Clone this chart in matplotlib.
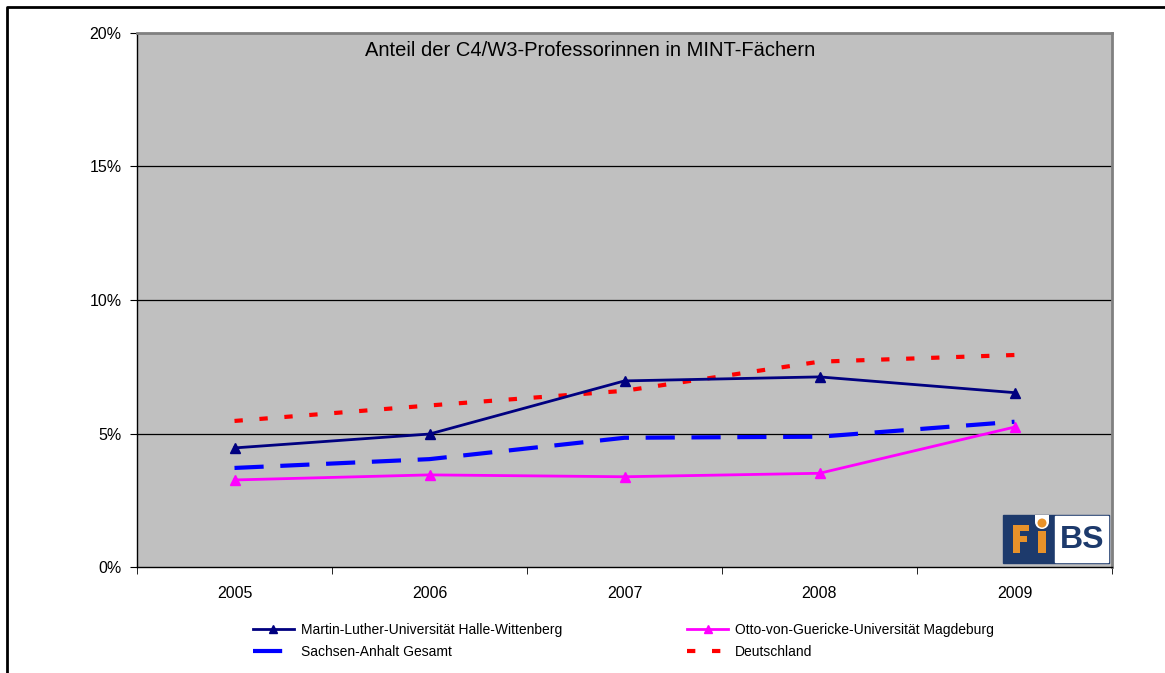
import matplotlib
matplotlib.use("Agg")
import matplotlib.pyplot as plt
from matplotlib.patches import Rectangle, Circle
import numpy as np

plt.rcParams['font.family'] = ['Liberation Sans', 'DejaVu Sans']

# data (share of female C4/W3 professors in %)
years = ['2005', '2006', '2007', '2008', '2009']
mlu = [4.46, 4.98, 6.97, 7.12, 6.53]
ovgu = [3.26, 3.45, 3.38, 3.51, 5.24]
sachsen_anhalt = [3.71, 4.04, 4.84, 4.88, 5.44]
deutschland = [5.47, 6.05, 6.60, 7.69, 7.94]
y_ticks = [0, 5, 10, 15, 20]

W, H = 1165, 673
fig = plt.figure(figsize=(W / 100, H / 100), dpi=100)
ax = fig.add_axes([137 / W, 1 - 567 / H, 975 / W, 534 / H])
ax.set_facecolor('#c0c0c0')

x = np.arange(len(years))
ax.plot(x, mlu, color='#000080', lw=2, marker='^', ms=7, zorder=5,
        label='Martin-Luther-Universität Halle-Wittenberg')
ax.plot(x, sachsen_anhalt, color='#0000ff', lw=3, dashes=(7, 4),
        dash_capstyle='butt', zorder=4, label='Sachsen-Anhalt Gesamt')
ax.plot(x, ovgu, color='#ff00ff', lw=2, marker='^', ms=7, zorder=5,
        label='Otto-von-Guericke-Universität Magdeburg')
ax.plot(x, deutschland, color='#ff0000', lw=3, dashes=(2, 4),
        dash_capstyle='butt', zorder=4, label='Deutschland')

ax.set_xlim(-0.5, len(years) - 0.5)
ax.set_ylim(0, 20)
ax.set_yticks(y_ticks)
ax.set_yticklabels(['%d%%' % v for v in y_ticks])
ax.set_xticks(x)
ax.set_xticklabels(years)
ax.set_xticks(np.arange(-0.5, len(years)), minor=True)
ax.tick_params(axis='x', which='major', length=0, pad=14, labelsize=11.5)
ax.tick_params(axis='x', which='minor', length=5, direction='out', color='black')
ax.tick_params(axis='y', length=5, direction='out', pad=6, labelsize=11.5)
for v in y_ticks[1:-1]:
    ax.axhline(v, color='black', lw=0.9, zorder=2)

for s in ['left', 'bottom']:
    ax.spines[s].set_color('black')
    ax.spines[s].set_linewidth(1)
for s in ['top', 'right']:
    ax.spines[s].set_color('#808080')
    ax.spines[s].set_linewidth(2)

ax.text(0.4646, 0.968, 'Anteil der C4/W3-Professorinnen in MINT-Fächern',
        transform=ax.transAxes, ha='center', va='center', fontsize=14.5)

handles, labels = ax.get_legend_handles_labels()
leg = fig.legend(handles, labels, ncol=2, loc='upper left',
                 bbox_to_anchor=(246 / W, 1 - 616 / H), frameon=False,
                 fontsize=10, borderpad=0, handlelength=2.95,
                 handletextpad=0.5, columnspacing=9.0, labelspacing=0.55)
for line in leg.get_lines():
    line.set_markersize(6)

# overlay in pixel coordinates for frame and logo
ov = fig.add_axes([0, 0, 1, 1], zorder=10)
ov.set_xlim(0, W)
ov.set_ylim(H, 0)
ov.axis('off')
ov.plot([7, 7, W], [H, 7, 7], color='black', lw=2, solid_capstyle='butt')

navy = '#1d3a6c'
orange = '#e8922a'
ov.add_patch(Rectangle((1003, 515), 106, 48, color=navy))
ov.add_patch(Rectangle((1055, 516), 53, 46, color='white'))
# "F"
ov.add_patch(Rectangle((1013, 525), 7, 28, color=orange, lw=0))
ov.add_patch(Rectangle((1013, 525), 16, 6, color=orange, lw=0))
ov.add_patch(Rectangle((1013, 536), 14, 6, color=orange, lw=0))
# "i" with dot in a white notch
ov.add_patch(Rectangle((1035, 515), 14, 7, color='white', lw=0))
ov.add_patch(Circle((1042, 522), 7, color='white', lw=0))
ov.add_patch(Circle((1042, 523), 4.5, color=orange, lw=0))
ov.add_patch(Rectangle((1038, 531), 8, 22, color=orange, lw=0))
ov.text(1082, 540, 'BS', color=navy, fontsize=23, fontweight='bold',
        ha='center', va='center')

fig.savefig('out.png', dpi=100)
